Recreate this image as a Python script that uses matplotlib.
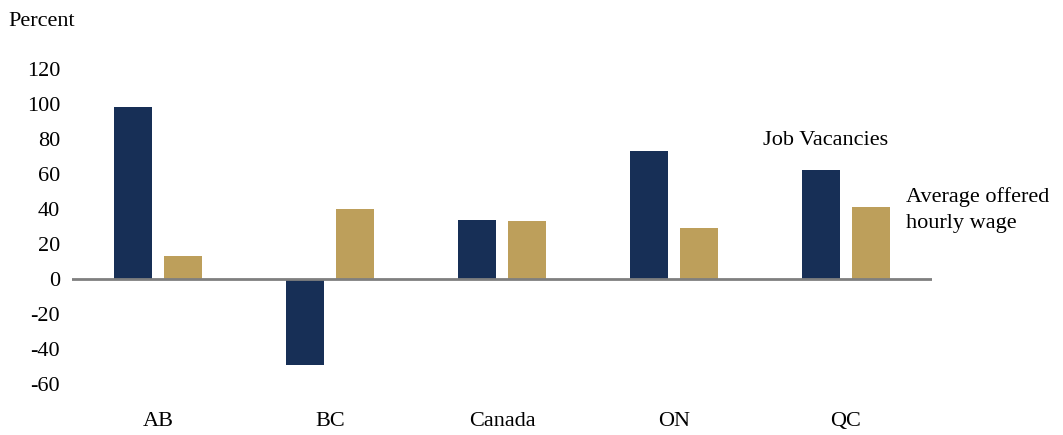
import matplotlib.pyplot as plt
import numpy as np

px = 1. / 100

regions = ["AB", "BC", "Canada", "ON", "QC"]
job_vacancies = [98, -49, 33.5, 73, 62.5]
hourly_wage = [13, 40, 33, 29, 41]
y_ticks = [-60, -40, -20, 0, 20, 40, 60, 80, 100, 120]

navy = "#172f56"
gold = "#bd9f5b"

plt.rcParams.update({
    "font.family": "Liberation Serif",
    "font.size": 16,
})

fig = plt.figure(figsize=(1063 * px, 435 * px), dpi=100)
ax = fig.add_axes([72 / 1063, 1 - 384 / 435, 860 / 1063, 315 / 435])

x = np.arange(len(regions))
width = 0.221
offset = 0.1425
ax.bar(x - offset, job_vacancies, width, color=navy, zorder=2)
ax.bar(x + offset, hourly_wage, width, color=gold, zorder=2)

ax.axhline(0, color="#7f7f7f", linewidth=2, zorder=3)

ax.set_xlim(-0.5, 4.5)
ax.set_ylim(-60, 120)
ax.set_yticks(y_ticks)
ax.set_yticklabels([str(t) for t in y_ticks])
ax.set_xticks(x)
ax.set_xticklabels(regions)
ax.tick_params(axis="both", length=0, labelsize=16)
ax.tick_params(axis="y", pad=8.5)
ax.tick_params(axis="x", pad=20)
for s in ax.spines.values():
    s.set_visible(False)

fig.text(8 / 1063, 1 - 22 / 435, "Percent", fontsize=16, va="center", ha="left")
ax.text(3.515, 79, "Job Vacancies", fontsize=16, va="center", ha="left")
ax.text(4.35, 39.4, "Average offered\nhourly wage", fontsize=16, va="center", ha="left",
        linespacing=1.5, clip_on=False)

fig.savefig("out.png", dpi=100)
